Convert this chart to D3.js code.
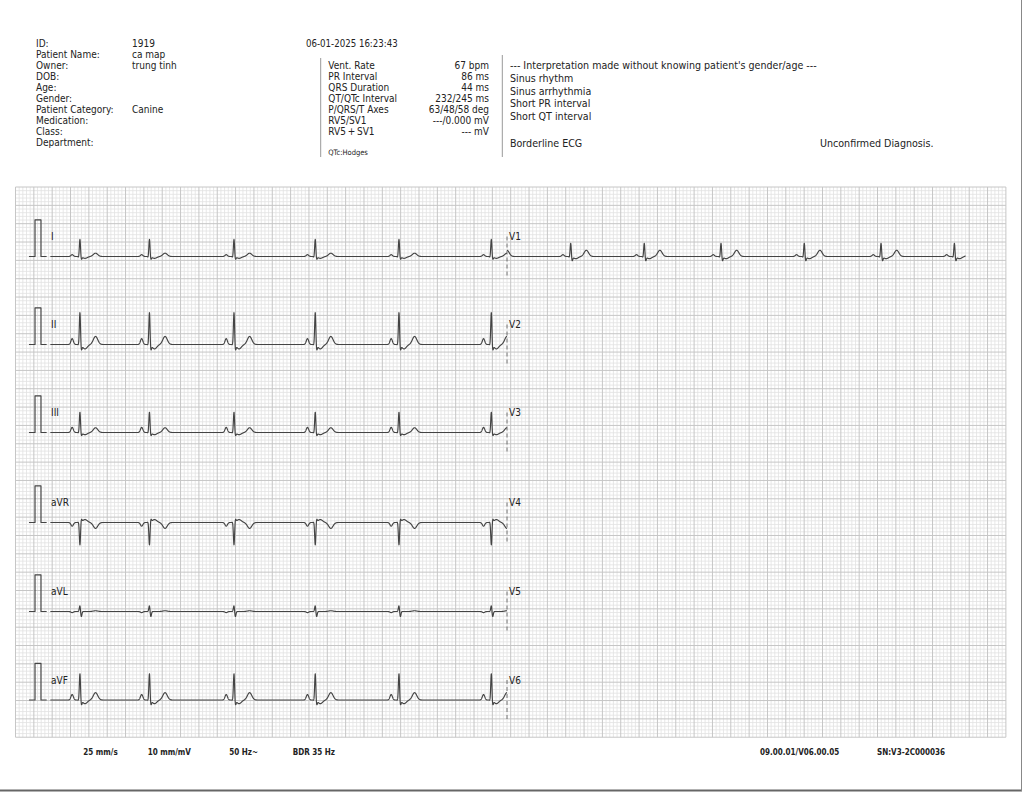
<!DOCTYPE html>
<html>
<head>
<meta charset="utf-8">
<script src="https://cdn.jsdelivr.net/npm/d3@7"></script>
<style>
  html, body { margin: 0; padding: 0; background: #fff; }
  svg { display: block; }
  text { font-family: "Liberation Sans Narrow", "DejaVu Sans Condensed", "Roboto Condensed", "Liberation Sans", Arial, sans-serif; fill: #222; }
</style>
</head>
<body>
<svg id="chart" width="1024" height="792"></svg>
<script>
// ---------------- DATA ----------------
const infoLabels = ["ID:", "Patient Name:", "Owner:", "DOB:", "Age:", "Gender:", "Patient Category:", "Medication:", "Class:", "Department:"];
const infoValues = ["1919", "ca map", "trung tinh", "", "", "", "Canine", "", "", ""];
const recordDate = "06-01-2025 16:23:43";
const measLabels = ["Vent. Rate", "PR Interval", "QRS Duration", "QT/QTc Interval", "P/QRS/T Axes", "RV5/SV1", "RV5\u2009+\u2009SV1"];
const measValues = ["67 bpm", "86 ms", "44 ms", "232/245 ms", "63/48/58 deg", "---/0.000 mV", "--- mV"];
const qtcNote = "QTc:Hodges";
const interpLines = ["--- Interpretation made without knowing patient's gender/age ---", "Sinus rhythm", "Sinus arrhythmia", "Short PR interval", "Short QT interval"];
const summaryLine = "Borderline ECG";
const confirmLine = "Unconfirmed Diagnosis.";
const footerLeft = ["25 mm/s", "10 mm/mV", "50 Hz~", "BDR 35 Hz"];
const footerRight = ["09.00.01/V06.00.05", "SN:V3-2C000036"];

const leftLeads = ["I", "II", "III", "aVR", "aVL", "aVF"];
const rightLeads = ["V1", "V2", "V3", "V4", "V5", "V6"];

// beat (R peak) times in seconds within each 5 s column
const beatTimesLeft = [0.343, 1.101, 2.023, 2.909, 3.822, 4.829];
const beatTimesV1 = [-0.17, 0.695, 1.497, 2.334, 3.242, 4.079, 4.879];

// wave amplitudes (mV) per limb lead, order = leftLeads
const pAmp  = [0.05, 0.16, 0.14, -0.10, -0.03, 0.15];
const qAmp  = [-0.03, -0.02, -0.02, 0.02, 0.00, -0.02];
const rAmp  = [0.48, 0.90, 0.57, -0.63, 0.17, 0.74];
const sAmp  = [-0.08, -0.15, -0.09, 0.09, -0.15, -0.13];
const stAmp = [-0.05, -0.12, -0.06, 0.08, 0.00, -0.10];
const tAmp  = [0.09, 0.22, 0.13, -0.16, 0.02, 0.20];
// V1 wave amplitudes [P, Q, R, S, ST, T]
const v1Amp = [0.05, -0.03, 0.38, -0.12, -0.06, 0.17];
// calibration pulse: times (s, relative to trace start) and height (mV)
const calTimes = [-0.213, -0.147, -0.082, -0.02];
const calHeight = 1.0;

// ---------------- LAYOUT ----------------
const svg = d3.select("#chart");
const MM = 990.4 / 270;
const gridL = 15.5, gridT = 187, gridWmm = 270, gridHmm = 150;
const colX = [48.5, 48.5 + 125 * MM];
const rowBase = [256.5, 344.5, 432.5, 522.5, 611.5, 700];

// page border lines
svg.append("line").attr("x1", 0).attr("x2", 1022).attr("y1", 790.5).attr("y2", 790.5).attr("stroke", "#666").attr("stroke-width", 2);
svg.append("line").attr("x1", 1021.5).attr("x2", 1021.5).attr("y1", 0).attr("y2", 791).attr("stroke", "#888").attr("stroke-width", 1);

// grid
const gx = d3.scaleLinear().domain([0, gridWmm]).range([gridL, gridL + gridWmm * MM]);
const gy = d3.scaleLinear().domain([0, gridHmm]).range([gridT, gridT + gridHmm * MM]);
const grid = svg.append("g");
const minorX = d3.range(0, gridWmm + 1).filter(d => d % 5 !== 0);
const minorY = d3.range(0, gridHmm + 1).filter(d => d % 5 !== 0);
const majorX = d3.range(0, gridWmm + 1, 5);
const majorY = d3.range(0, gridHmm + 1, 5);
grid.selectAll(".mnx").data(minorX).join("line")
  .attr("x1", d => gx(d)).attr("x2", d => gx(d)).attr("y1", gy(0)).attr("y2", gy(gridHmm))
  .attr("stroke", "#e2e2e2").attr("stroke-width", 0.8);
grid.selectAll(".mny").data(minorY).join("line")
  .attr("y1", d => gy(d)).attr("y2", d => gy(d)).attr("x1", gx(0)).attr("x2", gx(gridWmm))
  .attr("stroke", "#e2e2e2").attr("stroke-width", 0.8);
grid.selectAll(".mjx").data(majorX).join("line")
  .attr("x1", d => gx(d)).attr("x2", d => gx(d)).attr("y1", gy(0)).attr("y2", gy(gridHmm))
  .attr("stroke", "#c6c6c6").attr("stroke-width", 1);
grid.selectAll(".mjy").data(majorY).join("line")
  .attr("y1", d => gy(d)).attr("y2", d => gy(d)).attr("x1", gx(0)).attr("x2", gx(gridWmm))
  .attr("stroke", "#c6c6c6").attr("stroke-width", 1);

// ---------------- HEADER TEXT ----------------
const hdr = svg.append("g").attr("font-size", 10);
hdr.selectAll(".il").data(infoLabels).join("text")
  .attr("x", 36).attr("y", (d, i) => 46.7 + i * 11).text(d => d);
hdr.selectAll(".iv").data(infoValues).join("text")
  .attr("x", 132).attr("y", (d, i) => 46.7 + i * 11).text(d => d);
hdr.append("text").attr("x", 306).attr("y", 46.7).attr("font-size", 9.6).text(recordDate);
hdr.selectAll(".ml").data(measLabels).join("text")
  .attr("x", 328.3).attr("y", (d, i) => 69 + i * 11).text(d => d);
hdr.selectAll(".mv").data(measValues).join("text")
  .attr("x", 489).attr("y", (d, i) => 69 + i * 11).attr("text-anchor", "end").text(d => d);
hdr.append("text").attr("x", 328.3).attr("y", 154.5).attr("font-size", 7.5).text(qtcNote);
svg.append("line").attr("x1", 320.7).attr("x2", 320.7).attr("y1", 58).attr("y2", 157).attr("stroke", "#999").attr("stroke-width", 1);
svg.append("line").attr("x1", 502.3).attr("x2", 502.3).attr("y1", 55).attr("y2", 157).attr("stroke", "#999").attr("stroke-width", 1);

const interp = svg.append("g").attr("font-size", 10.6);
interp.selectAll(".ip").data(interpLines).join("text")
  .attr("x", 510).attr("y", (d, i) => 69.3 + i * 12.7).text(d => d);
interp.append("text").attr("x", 510).attr("y", 147).text(summaryLine);
interp.append("text").attr("x", 820).attr("y", 147).text(confirmLine);

// footer
const footLeftX = [83.3, 147.7, 229.3, 292.7];
const footRightX = [760, 877];
svg.selectAll(".fl").data(footerLeft).join("text")
  .attr("x", (d, i) => footLeftX[i]).attr("y", 754.5).attr("font-size", 8).attr("font-weight", "bold").attr("fill", "#3a3a3a").text(d => d);
svg.selectAll(".fr").data(footerRight).join("text")
  .attr("x", (d, i) => footRightX[i]).attr("y", 754.5).attr("font-size", 8).attr("font-weight", "bold").attr("fill", "#3a3a3a").text(d => d);

// ---------------- TRACES ----------------
const g = (t, c, s) => Math.exp(-0.5 * ((t - c) / s) * ((t - c) / s));
function beatValue(dt, a) {
  return a[0] * g(dt, -0.085, 0.013) + a[1] * g(dt, -0.014, 0.005) + a[2] * g(dt, 0, 0.0065)
       + a[3] * g(dt, 0.014, 0.007) + a[4] * g(dt, 0.055, 0.025) + a[5] * g(dt, 0.17, 0.024);
}
function buildTrace(beats, amps, t0, t1) {
  const pts = [];
  for (let t = t0; t <= t1 + 1e-9; t += 0.001) {
    let v = 0;
    for (const b of beats) { const dt = t - b; if (dt > -0.2 && dt < 0.3) v += beatValue(dt, amps); }
    pts.push([t, v]);
  }
  return pts;
}
const traces = svg.append("g").attr("fill", "none").attr("stroke", "#444").attr("stroke-width", 1.15).attr("stroke-linejoin", "round");
const labels = svg.append("g").attr("font-size", 10).attr("fill", "#333");

leftLeads.forEach((lead, i) => {
  const x = d3.scaleLinear().domain([0, 5]).range([colX[0], colX[0] + 125 * MM]);
  const y = d3.scaleLinear().domain([0, 1]).range([rowBase[i], rowBase[i] - 10 * MM]);
  const line = d3.line().x(d => x(d[0])).y(d => y(d[1]));
  // calibration pulse
  const cal = [[calTimes[0], 0], [calTimes[1], 0], [calTimes[1], calHeight], [calTimes[2], calHeight], [calTimes[2], 0], [calTimes[3], 0]];
  traces.append("path").attr("d", line(cal));
  const amps = [pAmp[i], qAmp[i], rAmp[i], sAmp[i], stAmp[i], tAmp[i]];
  traces.append("path").attr("d", line(buildTrace(beatTimesLeft, amps, 0.02, 5.0)));
  labels.append("text").attr("x", 51).attr("y", rowBase[i] - 16.5).text(lead);
});

rightLeads.forEach((lead, i) => {
  const x = d3.scaleLinear().domain([0, 5]).range([colX[1], colX[1] + 125 * MM]);
  const y = d3.scaleLinear().domain([0, 1]).range([rowBase[i], rowBase[i] - 10 * MM]);
  const line = d3.line().x(d => x(d[0])).y(d => y(d[1]));
  if (i === 0) traces.append("path").attr("d", line(buildTrace(beatTimesV1, v1Amp, 0.0, 5.0)));
  svg.append("line").attr("x1", x(0)).attr("x2", x(0)).attr("y1", rowBase[i] - 20).attr("y2", rowBase[i] + 21)
    .attr("stroke", "#555").attr("stroke-width", 0.8).attr("stroke-dasharray", "4,3");
  labels.append("text").attr("x", 509).attr("y", rowBase[i] - 16.5).text(lead);
});
</script>
</body>
</html>
